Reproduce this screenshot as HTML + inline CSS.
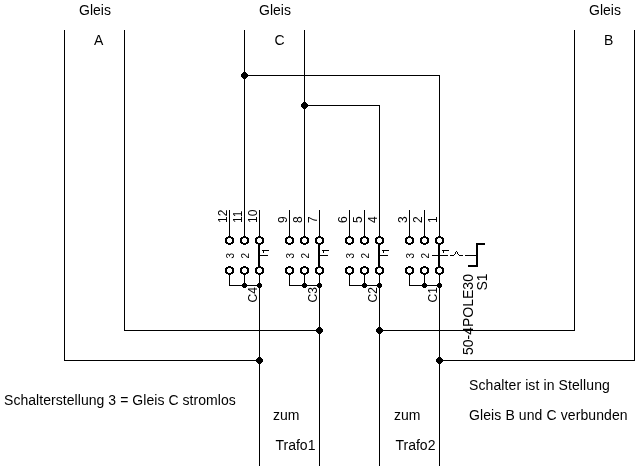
<!DOCTYPE html>
<html><head><meta charset="utf-8"><style>
html,body{margin:0;padding:0;background:#fff;width:642px;height:467px;overflow:hidden}
svg{display:block;filter:grayscale(1)}
text{font-family:"Liberation Sans",sans-serif;fill:#000}
.h{letter-spacing:0.1px}
</style></head><body>
<svg width="642" height="467" viewBox="0 0 642 467">
<rect width="642" height="467" fill="#fff"/>
<g fill="#000" stroke="none" shape-rendering="crispEdges">
<rect x="64" y="30" width="1" height="331"/>
<rect x="64" y="360" width="196" height="1"/>
<rect x="124" y="30" width="1" height="301"/>
<rect x="124" y="330" width="196" height="1"/>
<rect x="574" y="30" width="1" height="301"/>
<rect x="379" y="330" width="196" height="1"/>
<rect x="634" y="30" width="1" height="331"/>
<rect x="439" y="360" width="196" height="1"/>
<rect x="244" y="30" width="1" height="211"/>
<rect x="244" y="75" width="196" height="1"/>
<rect x="439" y="75" width="1" height="166"/>
<rect x="304" y="30" width="1" height="211"/>
<rect x="304" y="105" width="76" height="1"/>
<rect x="379" y="105" width="1" height="136"/>
<rect x="259" y="285" width="1" height="181"/>
<rect x="319" y="285" width="1" height="181"/>
<rect x="379" y="285" width="1" height="181"/>
<rect x="439" y="285" width="1" height="181"/>
<rect x="229" y="210" width="1" height="31"/>
<rect x="229" y="270" width="1" height="16"/>
<rect x="244" y="210" width="1" height="31"/>
<rect x="244" y="270" width="1" height="16"/>
<rect x="259" y="210" width="1" height="31"/>
<rect x="259" y="270" width="1" height="16"/>
<rect x="229" y="285" width="31" height="1"/>
<rect x="258" y="240" width="2" height="30"/>
<rect x="262" y="250" width="7" height="1"/>
<rect x="263" y="251" width="1" height="2"/>
<rect x="260" y="255" width="8" height="1"/>
<rect x="289" y="210" width="1" height="31"/>
<rect x="289" y="270" width="1" height="16"/>
<rect x="304" y="210" width="1" height="31"/>
<rect x="304" y="270" width="1" height="16"/>
<rect x="319" y="210" width="1" height="31"/>
<rect x="319" y="270" width="1" height="16"/>
<rect x="289" y="285" width="31" height="1"/>
<rect x="318" y="240" width="2" height="30"/>
<rect x="322" y="250" width="7" height="1"/>
<rect x="323" y="251" width="1" height="2"/>
<rect x="320" y="255" width="8" height="1"/>
<rect x="349" y="210" width="1" height="31"/>
<rect x="349" y="270" width="1" height="16"/>
<rect x="364" y="210" width="1" height="31"/>
<rect x="364" y="270" width="1" height="16"/>
<rect x="379" y="210" width="1" height="31"/>
<rect x="379" y="270" width="1" height="16"/>
<rect x="349" y="285" width="31" height="1"/>
<rect x="378" y="240" width="2" height="30"/>
<rect x="382" y="250" width="7" height="1"/>
<rect x="383" y="251" width="1" height="2"/>
<rect x="380" y="255" width="8" height="1"/>
<rect x="409" y="210" width="1" height="31"/>
<rect x="409" y="270" width="1" height="16"/>
<rect x="424" y="210" width="1" height="31"/>
<rect x="424" y="270" width="1" height="16"/>
<rect x="439" y="210" width="1" height="31"/>
<rect x="439" y="270" width="1" height="16"/>
<rect x="409" y="285" width="31" height="1"/>
<rect x="438" y="240" width="2" height="30"/>
<rect x="442" y="250" width="7" height="1"/>
<rect x="443" y="251" width="1" height="2"/>
<rect x="440" y="255" width="8" height="1"/>
<rect x="432" y="255" width="16" height="1"/>
<rect x="450" y="255" width="4" height="1"/>
<rect x="454" y="254" width="1" height="1"/>
<rect x="455" y="252" width="1" height="2"/>
<rect x="456" y="251" width="1" height="1"/>
<rect x="457" y="252" width="1" height="2"/>
<rect x="458" y="254" width="1" height="1"/>
<rect x="459" y="255" width="4" height="1"/>
<rect x="465" y="255" width="12" height="1"/>
<rect x="476" y="243" width="2" height="24"/>
<rect x="476" y="243" width="9" height="2"/>
<rect x="468" y="265" width="10" height="2"/>
</g>
<g fill="#000" shape-rendering="crispEdges">
<path shape-rendering="crispEdges" d="M243,72H246V73H247V74H248V77H247V78H246V79H243V78H242V77H241V74H242V73H243Z"/>
<path shape-rendering="crispEdges" d="M303,102H306V103H307V104H308V107H307V108H306V109H303V108H302V107H301V104H302V103H303Z"/>
<path shape-rendering="crispEdges" d="M258,357H261V358H262V359H263V362H262V363H261V364H258V363H257V362H256V359H257V358H258Z"/>
<path shape-rendering="crispEdges" d="M318,327H321V328H322V329H323V332H322V333H321V334H318V333H317V332H316V329H317V328H318Z"/>
<path shape-rendering="crispEdges" d="M378,327H381V328H382V329H383V332H382V333H381V334H378V333H377V332H376V329H377V328H378Z"/>
<path shape-rendering="crispEdges" d="M438,357H441V358H442V359H443V362H442V363H441V364H438V363H437V362H436V359H437V358H438Z"/>
<path transform="translate(225,236)" fill="#fff" d="M3,2H6V3H7V6H6V7H3V6H2V3H3Z"/>
<path transform="translate(225,236)" fill-rule="evenodd" d="M3,0H6V1H8V2H9V7H8V8H6V9H3V8H1V7H0V2H1V1H3ZM3,2H6V3H7V6H6V7H3V6H2V3H3Z"/>
<path transform="translate(225,266)" fill="#fff" d="M3,2H6V3H7V6H6V7H3V6H2V3H3Z"/>
<path transform="translate(225,266)" fill-rule="evenodd" d="M3,0H6V1H8V2H9V7H8V8H6V9H3V8H1V7H0V2H1V1H3ZM3,2H6V3H7V6H6V7H3V6H2V3H3Z"/>
<path transform="translate(240,236)" fill="#fff" d="M3,2H6V3H7V6H6V7H3V6H2V3H3Z"/>
<path transform="translate(240,236)" fill-rule="evenodd" d="M3,0H6V1H8V2H9V7H8V8H6V9H3V8H1V7H0V2H1V1H3ZM3,2H6V3H7V6H6V7H3V6H2V3H3Z"/>
<path transform="translate(240,266)" fill="#fff" d="M3,2H6V3H7V6H6V7H3V6H2V3H3Z"/>
<path transform="translate(240,266)" fill-rule="evenodd" d="M3,0H6V1H8V2H9V7H8V8H6V9H3V8H1V7H0V2H1V1H3ZM3,2H6V3H7V6H6V7H3V6H2V3H3Z"/>
<path transform="translate(255,236)" fill="#fff" d="M3,2H6V3H7V6H6V7H3V6H2V3H3Z"/>
<path transform="translate(255,236)" fill-rule="evenodd" d="M3,0H6V1H8V2H9V7H8V8H6V9H3V8H1V7H0V2H1V1H3ZM3,2H6V3H7V6H6V7H3V6H2V3H3Z"/>
<path transform="translate(255,266)" fill="#fff" d="M3,2H6V3H7V6H6V7H3V6H2V3H3Z"/>
<path transform="translate(255,266)" fill-rule="evenodd" d="M3,0H6V1H8V2H9V7H8V8H6V9H3V8H1V7H0V2H1V1H3ZM3,2H6V3H7V6H6V7H3V6H2V3H3Z"/>
<path shape-rendering="crispEdges" d="M243,283H246V284H247V287H246V288H243V287H242V284H243Z"/>
<path shape-rendering="crispEdges" d="M258,283H261V284H262V287H261V288H258V287H257V284H258Z"/>
<path transform="translate(285,236)" fill="#fff" d="M3,2H6V3H7V6H6V7H3V6H2V3H3Z"/>
<path transform="translate(285,236)" fill-rule="evenodd" d="M3,0H6V1H8V2H9V7H8V8H6V9H3V8H1V7H0V2H1V1H3ZM3,2H6V3H7V6H6V7H3V6H2V3H3Z"/>
<path transform="translate(285,266)" fill="#fff" d="M3,2H6V3H7V6H6V7H3V6H2V3H3Z"/>
<path transform="translate(285,266)" fill-rule="evenodd" d="M3,0H6V1H8V2H9V7H8V8H6V9H3V8H1V7H0V2H1V1H3ZM3,2H6V3H7V6H6V7H3V6H2V3H3Z"/>
<path transform="translate(300,236)" fill="#fff" d="M3,2H6V3H7V6H6V7H3V6H2V3H3Z"/>
<path transform="translate(300,236)" fill-rule="evenodd" d="M3,0H6V1H8V2H9V7H8V8H6V9H3V8H1V7H0V2H1V1H3ZM3,2H6V3H7V6H6V7H3V6H2V3H3Z"/>
<path transform="translate(300,266)" fill="#fff" d="M3,2H6V3H7V6H6V7H3V6H2V3H3Z"/>
<path transform="translate(300,266)" fill-rule="evenodd" d="M3,0H6V1H8V2H9V7H8V8H6V9H3V8H1V7H0V2H1V1H3ZM3,2H6V3H7V6H6V7H3V6H2V3H3Z"/>
<path transform="translate(315,236)" fill="#fff" d="M3,2H6V3H7V6H6V7H3V6H2V3H3Z"/>
<path transform="translate(315,236)" fill-rule="evenodd" d="M3,0H6V1H8V2H9V7H8V8H6V9H3V8H1V7H0V2H1V1H3ZM3,2H6V3H7V6H6V7H3V6H2V3H3Z"/>
<path transform="translate(315,266)" fill="#fff" d="M3,2H6V3H7V6H6V7H3V6H2V3H3Z"/>
<path transform="translate(315,266)" fill-rule="evenodd" d="M3,0H6V1H8V2H9V7H8V8H6V9H3V8H1V7H0V2H1V1H3ZM3,2H6V3H7V6H6V7H3V6H2V3H3Z"/>
<path shape-rendering="crispEdges" d="M303,283H306V284H307V287H306V288H303V287H302V284H303Z"/>
<path shape-rendering="crispEdges" d="M318,283H321V284H322V287H321V288H318V287H317V284H318Z"/>
<path transform="translate(345,236)" fill="#fff" d="M3,2H6V3H7V6H6V7H3V6H2V3H3Z"/>
<path transform="translate(345,236)" fill-rule="evenodd" d="M3,0H6V1H8V2H9V7H8V8H6V9H3V8H1V7H0V2H1V1H3ZM3,2H6V3H7V6H6V7H3V6H2V3H3Z"/>
<path transform="translate(345,266)" fill="#fff" d="M3,2H6V3H7V6H6V7H3V6H2V3H3Z"/>
<path transform="translate(345,266)" fill-rule="evenodd" d="M3,0H6V1H8V2H9V7H8V8H6V9H3V8H1V7H0V2H1V1H3ZM3,2H6V3H7V6H6V7H3V6H2V3H3Z"/>
<path transform="translate(360,236)" fill="#fff" d="M3,2H6V3H7V6H6V7H3V6H2V3H3Z"/>
<path transform="translate(360,236)" fill-rule="evenodd" d="M3,0H6V1H8V2H9V7H8V8H6V9H3V8H1V7H0V2H1V1H3ZM3,2H6V3H7V6H6V7H3V6H2V3H3Z"/>
<path transform="translate(360,266)" fill="#fff" d="M3,2H6V3H7V6H6V7H3V6H2V3H3Z"/>
<path transform="translate(360,266)" fill-rule="evenodd" d="M3,0H6V1H8V2H9V7H8V8H6V9H3V8H1V7H0V2H1V1H3ZM3,2H6V3H7V6H6V7H3V6H2V3H3Z"/>
<path transform="translate(375,236)" fill="#fff" d="M3,2H6V3H7V6H6V7H3V6H2V3H3Z"/>
<path transform="translate(375,236)" fill-rule="evenodd" d="M3,0H6V1H8V2H9V7H8V8H6V9H3V8H1V7H0V2H1V1H3ZM3,2H6V3H7V6H6V7H3V6H2V3H3Z"/>
<path transform="translate(375,266)" fill="#fff" d="M3,2H6V3H7V6H6V7H3V6H2V3H3Z"/>
<path transform="translate(375,266)" fill-rule="evenodd" d="M3,0H6V1H8V2H9V7H8V8H6V9H3V8H1V7H0V2H1V1H3ZM3,2H6V3H7V6H6V7H3V6H2V3H3Z"/>
<path shape-rendering="crispEdges" d="M363,283H366V284H367V287H366V288H363V287H362V284H363Z"/>
<path shape-rendering="crispEdges" d="M378,283H381V284H382V287H381V288H378V287H377V284H378Z"/>
<path transform="translate(405,236)" fill="#fff" d="M3,2H6V3H7V6H6V7H3V6H2V3H3Z"/>
<path transform="translate(405,236)" fill-rule="evenodd" d="M3,0H6V1H8V2H9V7H8V8H6V9H3V8H1V7H0V2H1V1H3ZM3,2H6V3H7V6H6V7H3V6H2V3H3Z"/>
<path transform="translate(405,266)" fill="#fff" d="M3,2H6V3H7V6H6V7H3V6H2V3H3Z"/>
<path transform="translate(405,266)" fill-rule="evenodd" d="M3,0H6V1H8V2H9V7H8V8H6V9H3V8H1V7H0V2H1V1H3ZM3,2H6V3H7V6H6V7H3V6H2V3H3Z"/>
<path transform="translate(420,236)" fill="#fff" d="M3,2H6V3H7V6H6V7H3V6H2V3H3Z"/>
<path transform="translate(420,236)" fill-rule="evenodd" d="M3,0H6V1H8V2H9V7H8V8H6V9H3V8H1V7H0V2H1V1H3ZM3,2H6V3H7V6H6V7H3V6H2V3H3Z"/>
<path transform="translate(420,266)" fill="#fff" d="M3,2H6V3H7V6H6V7H3V6H2V3H3Z"/>
<path transform="translate(420,266)" fill-rule="evenodd" d="M3,0H6V1H8V2H9V7H8V8H6V9H3V8H1V7H0V2H1V1H3ZM3,2H6V3H7V6H6V7H3V6H2V3H3Z"/>
<path transform="translate(435,236)" fill="#fff" d="M3,2H6V3H7V6H6V7H3V6H2V3H3Z"/>
<path transform="translate(435,236)" fill-rule="evenodd" d="M3,0H6V1H8V2H9V7H8V8H6V9H3V8H1V7H0V2H1V1H3ZM3,2H6V3H7V6H6V7H3V6H2V3H3Z"/>
<path transform="translate(435,266)" fill="#fff" d="M3,2H6V3H7V6H6V7H3V6H2V3H3Z"/>
<path transform="translate(435,266)" fill-rule="evenodd" d="M3,0H6V1H8V2H9V7H8V8H6V9H3V8H1V7H0V2H1V1H3ZM3,2H6V3H7V6H6V7H3V6H2V3H3Z"/>
<path shape-rendering="crispEdges" d="M423,283H426V284H427V287H426V288H423V287H422V284H423Z"/>
<path shape-rendering="crispEdges" d="M438,283H441V284H442V287H441V288H438V287H437V284H438Z"/>
</g>
<g>
<text transform="translate(227,223) rotate(-90)" font-size="12">12</text>
<text transform="translate(242,223) rotate(-90)" font-size="12">11</text>
<text transform="translate(257,223) rotate(-90)" font-size="12">10</text>
<text transform="translate(233.8,258.5) rotate(-90)" font-size="10">3</text>
<text transform="translate(248.8,258.5) rotate(-90)" font-size="10">2</text>
<text transform="translate(257,302.5) rotate(-90)" font-size="12">C4</text>
<text transform="translate(287,223) rotate(-90)" font-size="12">9</text>
<text transform="translate(302,223) rotate(-90)" font-size="12">8</text>
<text transform="translate(317,223) rotate(-90)" font-size="12">7</text>
<text transform="translate(293.8,258.5) rotate(-90)" font-size="10">3</text>
<text transform="translate(308.8,258.5) rotate(-90)" font-size="10">2</text>
<text transform="translate(317,302.5) rotate(-90)" font-size="12">C3</text>
<text transform="translate(347,223) rotate(-90)" font-size="12">6</text>
<text transform="translate(362,223) rotate(-90)" font-size="12">5</text>
<text transform="translate(377,223) rotate(-90)" font-size="12">4</text>
<text transform="translate(353.8,258.5) rotate(-90)" font-size="10">3</text>
<text transform="translate(368.8,258.5) rotate(-90)" font-size="10">2</text>
<text transform="translate(377,302.5) rotate(-90)" font-size="12">C2</text>
<text transform="translate(407,223) rotate(-90)" font-size="12">3</text>
<text transform="translate(422,223) rotate(-90)" font-size="12">2</text>
<text transform="translate(437,223) rotate(-90)" font-size="12">1</text>
<text transform="translate(413.8,258.5) rotate(-90)" font-size="10">3</text>
<text transform="translate(428.8,258.5) rotate(-90)" font-size="10">2</text>
<text transform="translate(437,302.5) rotate(-90)" font-size="12">C1</text>
<text transform="translate(472.5,355) rotate(-90)" font-size="14">50-4POLE30</text>
<text transform="translate(487,290.5) rotate(-90)" font-size="14">S1</text>
<text x="79" y="15" font-size="14">Gleis</text>
<text x="94" y="45" font-size="14">A</text>
<text x="259" y="15" font-size="14">Gleis</text>
<text x="274.5" y="45" font-size="14">C</text>
<text x="589" y="15" font-size="14">Gleis</text>
<text x="604" y="45" font-size="14">B</text>
<text x="4" y="405" font-size="14" letter-spacing="0.05">Schalterstellung 3 = Gleis C stromlos</text>
<text x="273" y="420" font-size="14">zum</text>
<text x="275.5" y="450" font-size="14">Trafo1</text>
<text x="394" y="420" font-size="14">zum</text>
<text x="395.5" y="450" font-size="14">Trafo2</text>
<text x="469" y="390" font-size="14" letter-spacing="0.1">Schalter ist in Stellung</text>
<text x="469" y="420" font-size="14" letter-spacing="0.1">Gleis B und C verbunden</text>
</g>
</svg>
</body></html>
